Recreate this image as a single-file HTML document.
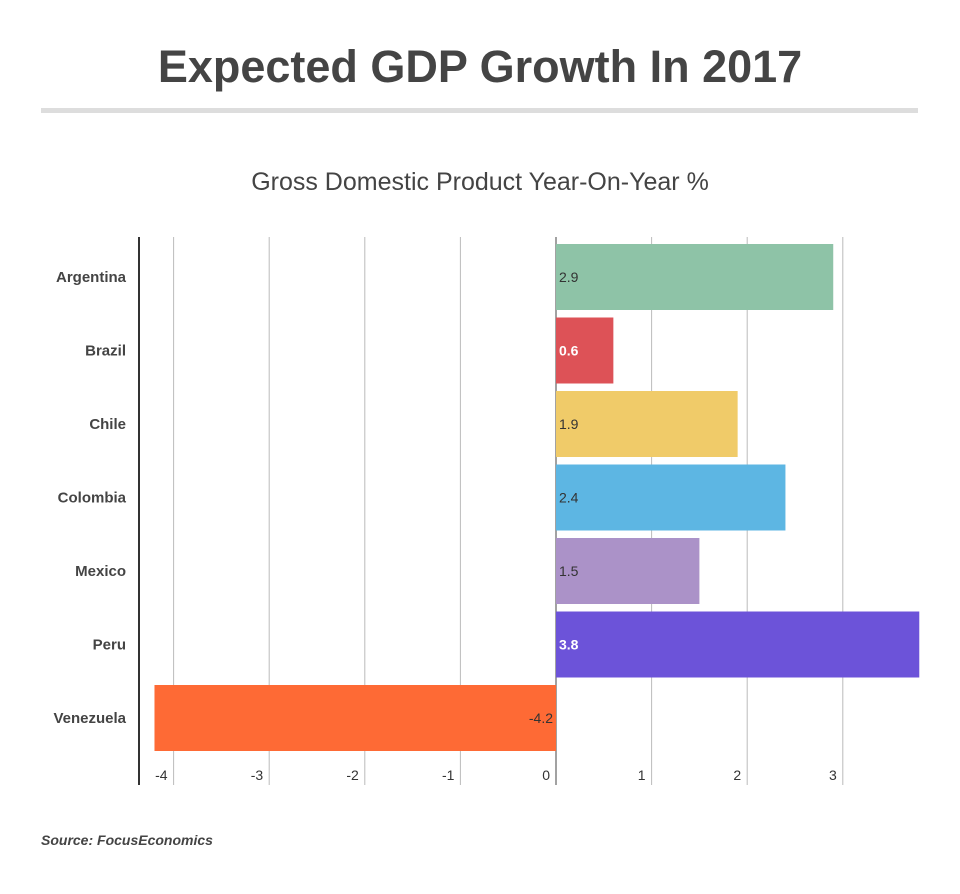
<!DOCTYPE html>
<html><head><meta charset="utf-8"><style>
body{margin:0;background:#fff;font-family:"Liberation Sans",sans-serif;}
#wrap{position:relative;width:960px;height:894px;overflow:hidden;}
#title{position:absolute;left:0;width:960px;top:41px;text-align:center;font-size:45px;font-weight:bold;color:#444;}
#rule{position:absolute;left:41px;width:877px;top:108px;height:5px;background:#ddd}
#sub{position:absolute;left:0;width:960px;top:168px;text-align:center;font-size:25px;color:#444}
#src{position:absolute;left:41px;top:832px;font-size:14px;font-style:italic;font-weight:bold;color:#444}
</style></head><body>
<div id="wrap">
<div id="title">Expected GDP Growth In 2017</div>
<div id="rule"></div>
<div id="sub">Gross Domestic Product Year-On-Year %</div>
<svg id="svg" width="960" height="894" style="position:absolute;left:0;top:0"></svg>
<div id="src">Source: FocusEconomics</div>
</div>
<script>
const categories=["Argentina","Brazil","Chile","Colombia","Mexico","Peru","Venezuela"];
const values=[2.9,0.6,1.9,2.4,1.5,3.8,-4.2];
const colors=["#8ec3a7","#dd5257","#f0cb69","#5db6e3","#ab92c8","#6c53d9","#fe6a35"];
const labelWhite=[false,true,false,false,false,true,false];
const ticks=[-4,-3,-2,-1,0,1,2,3];
const svg=document.getElementById('svg');
const NS="http://www.w3.org/2000/svg";
const x0=556,unit=95.6,plotTop=237,pitch=73.5,bh=66;
const X=v=>x0+v*unit;
const Y=i=>plotTop+7+i*pitch;
function mk(t,a){const e=document.createElementNS(NS,t);for(const k in a)e.setAttribute(k,a[k]);svg.appendChild(e);return e;}
ticks.forEach(t=>{
 const l=mk('line',{x1:X(t),x2:X(t),y1:plotTop,y2:785,stroke:t===0?'#444':'#bbb','stroke-width':1});
 
 
 const tx=mk('text',{x:X(t)-6,y:780,'text-anchor':'end','font-size':14,fill:'#333','font-family':'Liberation Sans'});
 tx.textContent=t;
 
 
});
const ax=mk('line',{x1:139,x2:139,y1:plotTop,y2:785,stroke:'#333','stroke-width':2});


categories.forEach((c,i)=>{
 const v=values[i];
 const r=mk('rect',{x:Math.min(X(0),X(v)),y:Y(i),width:Math.abs(X(v)-X(0)),height:bh,fill:colors[i]});
 
 
 const cl=mk('text',{x:126,y:Y(i)+bh/2+5,'text-anchor':'end','font-size':15,'font-weight':'bold',fill:'#444','font-family':'Liberation Sans'});
 cl.textContent=c;
 
 
 const vl=mk('text',{x:v>=0?X(0)+3:X(0)-3,y:Y(i)+bh/2+5,'text-anchor':v>=0?'start':'end','font-size':14,'font-weight':labelWhite[i]?'bold':'normal',fill:labelWhite[i]?'#fff':'#333','font-family':'Liberation Sans'});
 vl.textContent=v;
 
 
});
</script>
</body></html>
